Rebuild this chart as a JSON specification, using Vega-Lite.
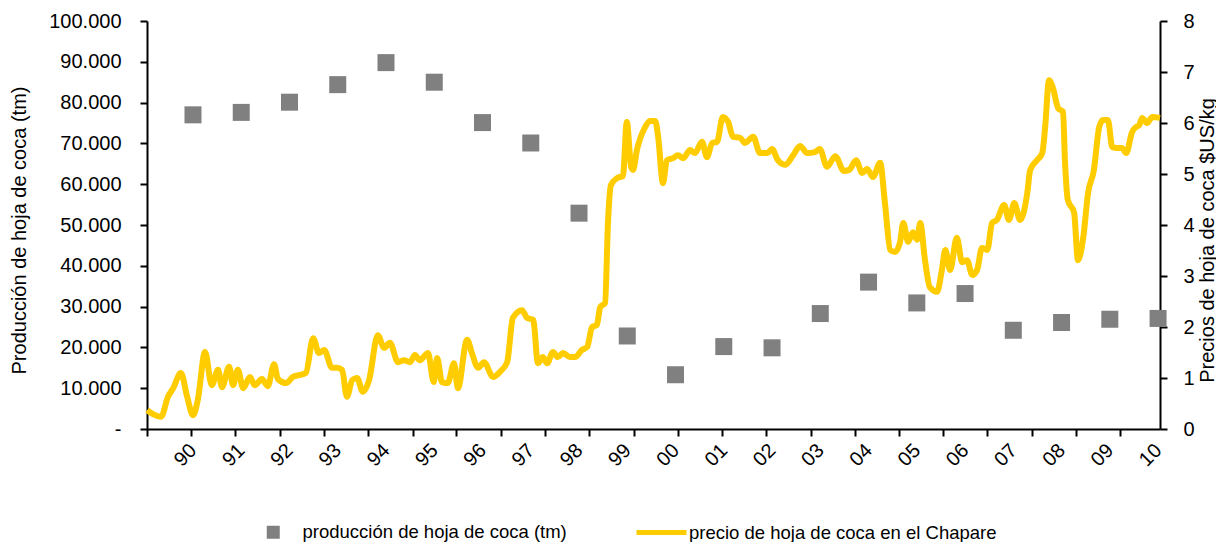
{
  "$schema": "https://vega.github.io/schema/vega-lite/v6.json",
  "width": 1013,
  "height": 408,
  "autosize": {"type": "none"},
  "padding": {"left": 147, "top": 21, "right": 56, "bottom": 113},
  "config": {
    "view": {"stroke": null},
    "font": "Liberation Sans",
    "axis": {
      "grid": false,
      "domainColor": "black",
      "tickColor": "black",
      "labelColor": "black",
      "titleColor": "black",
      "labelFont": "Liberation Sans",
      "titleFont": "Liberation Sans",
      "labelFontSize": 20,
      "titleFontSize": 20,
      "titleFontWeight": "normal",
      "domainWidth": 2,
      "tickWidth": 2,
      "tickSize": 7
    },
    "legend": {"labelFont": "Liberation Sans", "labelFontSize": 18.5, "labelColor": "black", "padding": 0, "labelLimit": 0}
  },
  "datasets": {
    "produccion": [
      {"anio": 1990, "tm": 77000, "serie": "producción de hoja de coca (tm)"},
      {"anio": 1991, "tm": 77600, "serie": "producción de hoja de coca (tm)"},
      {"anio": 1992, "tm": 80100, "serie": "producción de hoja de coca (tm)"},
      {"anio": 1993, "tm": 84400, "serie": "producción de hoja de coca (tm)"},
      {"anio": 1994, "tm": 89800, "serie": "producción de hoja de coca (tm)"},
      {"anio": 1995, "tm": 85000, "serie": "producción de hoja de coca (tm)"},
      {"anio": 1996, "tm": 75100, "serie": "producción de hoja de coca (tm)"},
      {"anio": 1997, "tm": 70100, "serie": "producción de hoja de coca (tm)"},
      {"anio": 1998, "tm": 52900, "serie": "producción de hoja de coca (tm)"},
      {"anio": 1999, "tm": 22800, "serie": "producción de hoja de coca (tm)"},
      {"anio": 2000, "tm": 13300, "serie": "producción de hoja de coca (tm)"},
      {"anio": 2001, "tm": 20200, "serie": "producción de hoja de coca (tm)"},
      {"anio": 2002, "tm": 19900, "serie": "producción de hoja de coca (tm)"},
      {"anio": 2003, "tm": 28300, "serie": "producción de hoja de coca (tm)"},
      {"anio": 2004, "tm": 36000, "serie": "producción de hoja de coca (tm)"},
      {"anio": 2005, "tm": 30900, "serie": "producción de hoja de coca (tm)"},
      {"anio": 2006, "tm": 33200, "serie": "producción de hoja de coca (tm)"},
      {"anio": 2007, "tm": 24200, "serie": "producción de hoja de coca (tm)"},
      {"anio": 2008, "tm": 26100, "serie": "producción de hoja de coca (tm)"},
      {"anio": 2009, "tm": 26900, "serie": "producción de hoja de coca (tm)"},
      {"anio": 2010, "tm": 27100, "serie": "producción de hoja de coca (tm)"}
    ],
    "precio": [
      {"t": 1989.05, "p": 0.37}, {"t": 1989.17, "p": 0.29}, {"t": 1989.34, "p": 0.24}, {"t": 1989.48, "p": 0.63},
      {"t": 1989.59, "p": 0.80}, {"t": 1989.75, "p": 1.10}, {"t": 1989.88, "p": 0.63}, {"t": 1990.00, "p": 0.27},
      {"t": 1990.10, "p": 0.57}, {"t": 1990.25, "p": 1.51}, {"t": 1990.39, "p": 0.86}, {"t": 1990.52, "p": 1.16},
      {"t": 1990.60, "p": 0.82}, {"t": 1990.75, "p": 1.22}, {"t": 1990.83, "p": 0.86}, {"t": 1990.93, "p": 1.16},
      {"t": 1991.04, "p": 0.80}, {"t": 1991.18, "p": 1.02}, {"t": 1991.28, "p": 0.86}, {"t": 1991.43, "p": 0.98},
      {"t": 1991.55, "p": 0.84}, {"t": 1991.68, "p": 1.27}, {"t": 1991.76, "p": 0.98}, {"t": 1991.93, "p": 0.90},
      {"t": 1992.07, "p": 1.02}, {"t": 1992.22, "p": 1.06}, {"t": 1992.34, "p": 1.10}, {"t": 1992.49, "p": 1.78},
      {"t": 1992.61, "p": 1.49}, {"t": 1992.72, "p": 1.55}, {"t": 1992.88, "p": 1.20}, {"t": 1992.98, "p": 1.20},
      {"t": 1993.09, "p": 1.16}, {"t": 1993.19, "p": 0.63}, {"t": 1993.30, "p": 0.96}, {"t": 1993.40, "p": 1.00},
      {"t": 1993.52, "p": 0.73}, {"t": 1993.65, "p": 0.96}, {"t": 1993.83, "p": 1.84}, {"t": 1993.96, "p": 1.59},
      {"t": 1994.08, "p": 1.69}, {"t": 1994.25, "p": 1.31}, {"t": 1994.37, "p": 1.35}, {"t": 1994.50, "p": 1.31},
      {"t": 1994.60, "p": 1.45}, {"t": 1994.70, "p": 1.35}, {"t": 1994.87, "p": 1.49}, {"t": 1994.99, "p": 0.92},
      {"t": 1995.06, "p": 1.39}, {"t": 1995.16, "p": 0.92}, {"t": 1995.28, "p": 0.90}, {"t": 1995.41, "p": 1.29},
      {"t": 1995.49, "p": 0.80}, {"t": 1995.68, "p": 1.75}, {"t": 1995.78, "p": 1.49}, {"t": 1995.91, "p": 1.20},
      {"t": 1996.03, "p": 1.31}, {"t": 1996.22, "p": 1.02}, {"t": 1996.36, "p": 1.12}, {"t": 1996.51, "p": 1.31},
      {"t": 1996.63, "p": 2.18}, {"t": 1996.82, "p": 2.33}, {"t": 1996.92, "p": 2.18}, {"t": 1997.05, "p": 2.14},
      {"t": 1997.15, "p": 1.29}, {"t": 1997.25, "p": 1.41}, {"t": 1997.34, "p": 1.29}, {"t": 1997.46, "p": 1.51},
      {"t": 1997.56, "p": 1.41}, {"t": 1997.67, "p": 1.49}, {"t": 1997.81, "p": 1.41}, {"t": 1997.92, "p": 1.41},
      {"t": 1998.06, "p": 1.55}, {"t": 1998.17, "p": 1.61}, {"t": 1998.27, "p": 2.00}, {"t": 1998.37, "p": 2.04},
      {"t": 1998.44, "p": 2.39}, {"t": 1998.54, "p": 2.47}, {"t": 1998.60, "p": 4.04}, {"t": 1998.66, "p": 4.78},
      {"t": 1998.79, "p": 4.92}, {"t": 1998.91, "p": 4.96}, {"t": 1998.99, "p": 6.02}, {"t": 1999.08, "p": 5.14},
      {"t": 1999.12, "p": 5.08}, {"t": 1999.20, "p": 5.47}, {"t": 1999.37, "p": 5.92}, {"t": 1999.47, "p": 6.04},
      {"t": 1999.58, "p": 6.04}, {"t": 1999.64, "p": 5.73}, {"t": 1999.74, "p": 4.82}, {"t": 1999.82, "p": 5.27},
      {"t": 1999.95, "p": 5.31}, {"t": 2000.05, "p": 5.37}, {"t": 2000.16, "p": 5.31}, {"t": 2000.30, "p": 5.47},
      {"t": 2000.40, "p": 5.41}, {"t": 2000.55, "p": 5.63}, {"t": 2000.65, "p": 5.33}, {"t": 2000.76, "p": 5.61},
      {"t": 2000.86, "p": 5.63}, {"t": 2000.98, "p": 6.12}, {"t": 2001.09, "p": 6.02}, {"t": 2001.19, "p": 5.73},
      {"t": 2001.34, "p": 5.71}, {"t": 2001.44, "p": 5.61}, {"t": 2001.61, "p": 5.73}, {"t": 2001.75, "p": 5.41},
      {"t": 2001.90, "p": 5.41}, {"t": 2002.00, "p": 5.49}, {"t": 2002.12, "p": 5.27}, {"t": 2002.27, "p": 5.18},
      {"t": 2002.44, "p": 5.37}, {"t": 2002.58, "p": 5.55}, {"t": 2002.73, "p": 5.41}, {"t": 2002.89, "p": 5.43},
      {"t": 2002.99, "p": 5.49}, {"t": 2003.14, "p": 5.14}, {"t": 2003.31, "p": 5.35}, {"t": 2003.49, "p": 5.06},
      {"t": 2003.60, "p": 5.08}, {"t": 2003.74, "p": 5.27}, {"t": 2003.87, "p": 5.02}, {"t": 2003.97, "p": 5.10},
      {"t": 2004.09, "p": 4.94}, {"t": 2004.24, "p": 5.22}, {"t": 2004.34, "p": 4.43}, {"t": 2004.45, "p": 3.51},
      {"t": 2004.55, "p": 3.47}, {"t": 2004.65, "p": 3.65}, {"t": 2004.72, "p": 4.04}, {"t": 2004.82, "p": 3.67},
      {"t": 2004.92, "p": 3.86}, {"t": 2005.01, "p": 3.71}, {"t": 2005.07, "p": 4.04}, {"t": 2005.17, "p": 3.31},
      {"t": 2005.27, "p": 2.78}, {"t": 2005.42, "p": 2.69}, {"t": 2005.52, "p": 3.12}, {"t": 2005.59, "p": 3.51},
      {"t": 2005.69, "p": 3.12}, {"t": 2005.83, "p": 3.75}, {"t": 2005.94, "p": 3.27}, {"t": 2006.04, "p": 3.31},
      {"t": 2006.15, "p": 3.02}, {"t": 2006.25, "p": 3.12}, {"t": 2006.35, "p": 3.55}, {"t": 2006.46, "p": 3.51},
      {"t": 2006.56, "p": 4.04}, {"t": 2006.66, "p": 4.10}, {"t": 2006.81, "p": 4.39}, {"t": 2006.91, "p": 4.10},
      {"t": 2007.02, "p": 4.43}, {"t": 2007.14, "p": 4.10}, {"t": 2007.29, "p": 4.63}, {"t": 2007.35, "p": 5.08},
      {"t": 2007.49, "p": 5.27}, {"t": 2007.60, "p": 5.41}, {"t": 2007.66, "p": 5.92}, {"t": 2007.74, "p": 6.84},
      {"t": 2007.82, "p": 6.69}, {"t": 2007.93, "p": 6.29}, {"t": 2008.03, "p": 6.22}, {"t": 2008.07, "p": 5.27},
      {"t": 2008.13, "p": 4.49}, {"t": 2008.26, "p": 4.24}, {"t": 2008.34, "p": 3.31}, {"t": 2008.45, "p": 3.76},
      {"t": 2008.55, "p": 4.63}, {"t": 2008.67, "p": 5.08}, {"t": 2008.78, "p": 5.92}, {"t": 2008.86, "p": 6.06},
      {"t": 2008.96, "p": 6.06}, {"t": 2009.05, "p": 5.53}, {"t": 2009.15, "p": 5.51}, {"t": 2009.25, "p": 5.51},
      {"t": 2009.34, "p": 5.41}, {"t": 2009.46, "p": 5.82}, {"t": 2009.54, "p": 5.92}, {"t": 2009.61, "p": 5.96},
      {"t": 2009.67, "p": 6.10}, {"t": 2009.77, "p": 6.00}, {"t": 2009.88, "p": 6.12}, {"t": 2010.04, "p": 6.10}
    ]
  },
  "layer": [
    {
      "data": {"name": "produccion"},
      "mark": {"type": "point", "shape": "square", "filled": true, "size": 289, "opacity": 1, "clip": false},
      "encoding": {
        "x": {
          "field": "anio", "type": "quantitative",
          "scale": {"domain": [1989.047, 2010.04], "nice": false, "zero": false},
          "axis": {
            "orient": "bottom", "title": null, "domain": false, "ticks": false, "tickSize": 0,
            "values": [1990, 1991, 1992, 1993, 1994, 1995, 1996, 1997, 1998, 1999, 2000, 2001, 2002, 2003, 2004, 2005, 2006, 2007, 2008, 2009, 2010],
            "labelExpr": "format(datum.value % 100, '02d')",
            "labelAngle": -45, "labelAlign": "right", "labelBaseline": "middle",
            "labelPadding": 18, "labelOverlap": false, "labelFlush": false
          }
        },
        "y": {
          "field": "tm", "type": "quantitative",
          "scale": {"domain": [0, 100000], "nice": false},
          "axis": {
            "orient": "left",
            "title": "Producción de hoja de coca (tm)",
            "values": [0, 10000, 20000, 30000, 40000, 50000, 60000, 70000, 80000, 90000, 100000],
            "labelExpr": "datum.value == 0 ? '-' : replace(format(datum.value, ',.0f'), ',', '.')",
            "labelPadding": 19,
            "titleAngle": -90, "titleAlign": "center", "titleBaseline": "middle",
            "titleX": -128, "titleY": 209
          }
        },
        "fill": {
          "field": "serie", "type": "nominal",
          "scale": {"range": ["#808080"]},
          "legend": {
            "title": null, "orient": "none", "legendX": 117, "legendY": 502,
            "symbolType": "square", "symbolSize": 169, "labelOffset": 20, "symbolStrokeWidth": 0
          }
        }
      }
    },
    {
      "data": {"name": "precio"},
      "mark": {"type": "line", "strokeWidth": 6, "interpolate": "monotone", "clip": false},
      "encoding": {
        "x": {
          "field": "t", "type": "quantitative",
          "axis": {
            "orient": "bottom", "title": null, "labels": false, "domain": true,
            "values": [1989.05, 1989.96, 1990.88, 1991.80, 1992.71, 1993.63, 1994.55, 1995.46, 1996.38, 1997.30, 1998.21, 1999.13, 2000.05, 2000.96, 2001.88, 2002.80, 2003.71, 2004.63, 2005.55, 2006.46, 2007.38, 2008.30, 2009.21]
          }
        },
        "y": {
          "field": "p", "type": "quantitative",
          "scale": {"domain": [0, 8], "nice": false},
          "axis": {
            "orient": "right",
            "title": "Precios de hoja de coca $US/kg",
            "values": [0, 1, 2, 3, 4, 5, 6, 7, 8],
            "labelPadding": 16,
            "titleAngle": -90, "titleAlign": "center", "titleBaseline": "middle",
            "titleX": 47, "titleY": 219
          }
        },
        "stroke": {
          "field": "serie", "type": "nominal",
          "scale": {"range": ["#FFCC00"]},
          "legend": {
            "title": null, "orient": "none", "legendX": 487, "legendY": 484,
            "symbolType": "stroke", "symbolSize": 2500, "symbolStrokeWidth": 5, "labelOffset": 0
          }
        }
      },
      "transform": [{"calculate": "'precio de hoja de coca en el Chapare'", "as": "serie"}]
    }
  ],
  "resolve": {
    "scale": {"y": "independent", "fill": "independent", "stroke": "independent"},
    "axis": {"x": "independent", "y": "independent"}
  }
}
